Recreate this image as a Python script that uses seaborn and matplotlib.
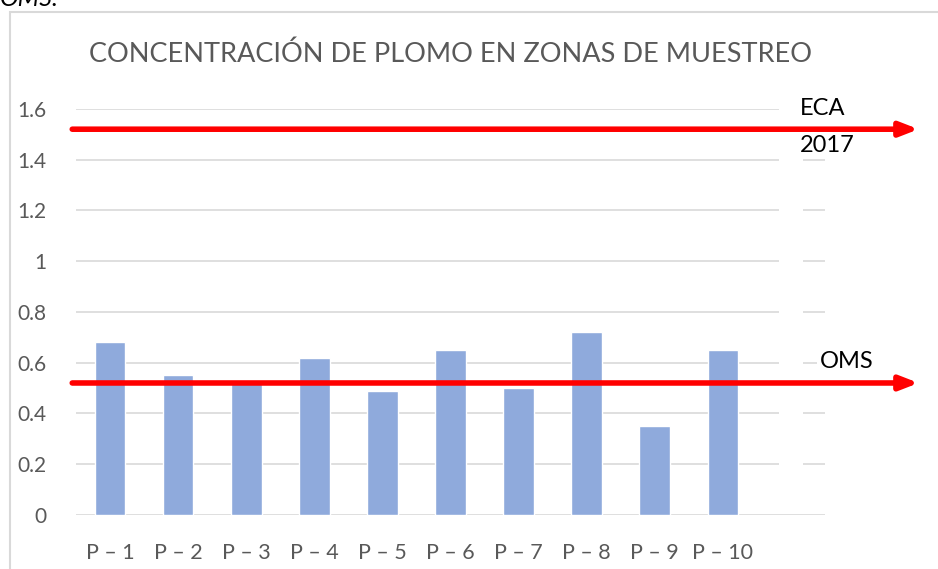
import matplotlib.pyplot as plt
import matplotlib.patches as mpatches
import seaborn as sns
import pandas as pd

puntos = ['P – 1', 'P – 2', 'P – 3', 'P – 4', 'P – 5',
          'P – 6', 'P – 7', 'P – 8', 'P – 9', 'P – 10']
plomo = [0.68, 0.55, 0.53, 0.62, 0.49, 0.65, 0.50, 0.72, 0.35, 0.65]
limite_eca = 1.52
limite_oms = 0.52
y_ticks = [0, 0.2, 0.4, 0.6, 0.8, 1.0, 1.2, 1.4, 1.6]
y_labels = ['0', '0.2', '0.4', '0.6', '0.8', '1', '1.2', '1.4', '1.6']

sns.set_theme(style='white')
plt.rcParams['font.family'] = ['Lato', 'DejaVu Sans']

df = pd.DataFrame({'punto': puntos, 'plomo': plomo})

fig = plt.figure(figsize=(9.38, 5.69), dpi=100)
ax = fig.add_axes([0.081, 0.095, 0.7985, 0.7136])

sns.barplot(data=df, x='punto', y='plomo', color='#8FAADC', saturation=1,
            width=0.45, ax=ax, zorder=2)

ax.set_xlim(-0.5, 10.5)
ax.set_ylim(0, 1.6)
ax.set_yticks(y_ticks)
ax.set_yticklabels(y_labels)
ax.yaxis.grid(True, color='#D9D9D9', linewidth=1.2, zorder=0)
ax.set_axisbelow(True)
for s in ax.spines.values():
    s.set_visible(False)
ax.tick_params(axis='both', length=0, labelsize=15, colors='#595959')
ax.tick_params(axis='x', pad=20, labelsize=15.5)
ax.tick_params(axis='y', pad=21)
ax.set_xlabel('')
ax.set_ylabel('')

# white strip where the grid is interrupted
ax.add_patch(mpatches.Rectangle((9.82, 0.1), 0.36, 1.5, facecolor='white',
                                edgecolor='none', zorder=1))

ax.set_title('CONCENTRACIÓN DE PLOMO EN ZONAS DE MUESTREO', fontsize=19.5,
             color='#595959', pad=34)

# limit arrows
for val in [limite_eca, limite_oms]:
    ax.annotate('', xy=(1.125, val), xytext=(-0.005, val),
                xycoords=('axes fraction', 'data'),
                textcoords=('axes fraction', 'data'),
                arrowprops=dict(arrowstyle='-|>,head_length=0.9,head_width=0.35',
                                color='red', lw=4, shrinkA=0, shrinkB=0),
                annotation_clip=False, zorder=5)

ax.text(0.966, 1.60, 'ECA', transform=ax.get_yaxis_transform(),
        fontsize=17, color='black', va='center', ha='left',
        bbox=dict(facecolor='white', edgecolor='none', pad=1), zorder=4)
ax.text(0.966, 1.455, '2017', transform=ax.get_yaxis_transform(),
        fontsize=17, color='black', va='center', ha='left', zorder=4)
ax.text(0.993, 0.605, 'OMS', transform=ax.get_yaxis_transform(),
        fontsize=17, color='black', va='center', ha='left',
        bbox=dict(facecolor='white', edgecolor='none', pad=2), zorder=4)

# chart border and cut caption
fig.patches.append(mpatches.Rectangle((10 / 938, -0.1), 1.0, 1 - 12 / 569 + 0.1,
                                      transform=fig.transFigure, fill=False,
                                      edgecolor='#D9D9D9', linewidth=1.5))
fig.text(0.0, 1 - 6 / 569, 'OMS.', fontsize=18, style='italic', color='black',
         va='baseline', ha='left')

fig.savefig('out.png', dpi=100)
